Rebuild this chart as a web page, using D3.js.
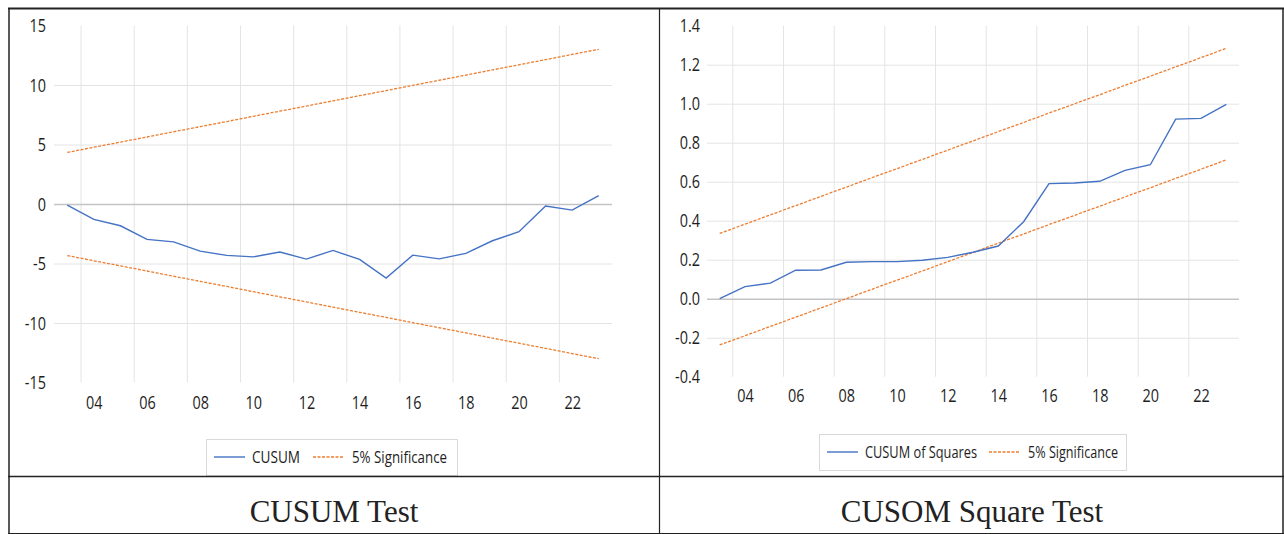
<!DOCTYPE html>
<head>
  <meta charset="utf-8">
  <script src="https://d3js.org/d3.v7.min.js"></script>
  <style>
    body { margin:0; background:#fff; }
    text { font-family: "Open Sans", "Noto Sans", sans-serif; fill:#1e1e1e; }
    .caption { font-family: "Liberation Serif", "Times New Roman", serif; fill:#222; }
  </style>
</head>
<body>
<div id=figure></div>
<script>
// years 2003..2023
var years = d3.range(2003, 2024);
var yearTicks = [2004, 2006, 2008, 2010, 2012, 2014, 2016, 2018, 2020, 2022];
var yearGrid = [2003.5, 2005.5, 2007.5, 2009.5, 2011.5, 2013.5, 2015.5, 2017.5, 2019.5, 2021.5];

// CUSUM test
var cusum = [-0.1, -1.29, -1.83, -2.97, -3.18, -3.96, -4.32, -4.44, -4.04, -4.63, -3.9,
             -4.66, -6.23, -4.3, -4.61, -4.15, -3.09, -2.33, -0.17, -0.51, 0.7];
var cusumUpper = [4.33, 4.77, 5.2, 5.63, 6.07, 6.5, 6.93, 7.37, 7.8, 8.23, 8.67,
                  9.1, 9.53, 9.97, 10.4, 10.83, 11.27, 11.7, 12.13, 12.57, 13.0];
var cusumLower = [-4.33, -4.77, -5.2, -5.63, -6.07, -6.5, -6.93, -7.37, -7.8, -8.23, -8.67,
                  -9.1, -9.53, -9.97, -10.4, -10.83, -11.27, -11.7, -12.13, -12.57, -13.0];
var cusumTicks = [-15, -10, -5, 0, 5, 10, 15];

// CUSUM of squares test
var cusumSq = [0.0, 0.062, 0.08, 0.146, 0.147, 0.187, 0.19, 0.19, 0.197, 0.212, 0.238,
               0.27, 0.395, 0.59, 0.593, 0.602, 0.658, 0.687, 0.921, 0.925, 0.997];
var sqUpper = [0.335, 0.382, 0.43, 0.477, 0.525, 0.572, 0.62, 0.667, 0.714, 0.762, 0.809,
               0.857, 0.904, 0.952, 0.999, 1.046, 1.094, 1.141, 1.189, 1.236, 1.284];
var sqLower = [-0.237, -0.19, -0.142, -0.095, -0.047, 0.0, 0.048, 0.095, 0.142, 0.19, 0.237,
               0.285, 0.332, 0.38, 0.427, 0.474, 0.522, 0.569, 0.617, 0.664, 0.712];
var sqTicks = [-0.4, -0.2, 0.0, 0.2, 0.4, 0.6, 0.8, 1.0, 1.2, 1.4];

var blue = "#4472c4", orange = "#ed7d31";

var svg = d3.select("#figure").append("svg")
  .attr("width", 1284)
  .attr("height", 534);

function drawChart(o) {
  var x = d3.scaleLinear().domain([2002.5, 2023.5]).range([o.left, o.right]);
  var y = d3.scaleLinear().domain(o.domain).range([o.bottom, o.top]);
  var g = svg.append("g");

  // vertical grid
  g.append("g")
    .attr("transform", "translate(0," + o.bottom + ")")
    .call(d3.axisBottom(x).tickValues(yearGrid).tickSize(-(o.bottom - o.top)).tickFormat(""))
    .call(function(a) {
      a.select(".domain").remove();
      a.selectAll("line").attr("stroke", "#e4e4e4").attr("stroke-width", 1);
    });

  // horizontal grid
  var inner = o.ticks.filter(function(d) { return d > o.domain[0] && d < o.domain[1]; });
  g.append("g")
    .attr("transform", "translate(" + o.left + ",0)")
    .call(d3.axisLeft(y).tickValues(inner).tickSize(-(o.right - o.left)).tickFormat(""))
    .call(function(a) {
      a.select(".domain").remove();
      a.selectAll("line")
        .attr("stroke", function(d) { return d === 0 ? "#c4c4c4" : "#e4e4e4"; })
        .attr("stroke-width", function(d) { return d === 0 ? 1.6 : 1; });
    });

  // y labels
  g.append("g")
    .attr("transform", "translate(" + o.labelRight + ",0)")
    .call(d3.axisLeft(y).tickValues(o.ticks).tickSize(0).tickPadding(0).tickFormat(o.fmt))
    .call(function(a) {
      a.select(".domain").remove();
      a.selectAll("text").style("font-size", "19px").attr("fill", "#1e1e1e")
        .attr("transform", "scale(0.76,1)");
    });

  // x labels
  g.append("g")
    .attr("transform", "translate(0," + o.xLabelY + ")")
    .call(d3.axisBottom(x).tickValues(yearTicks).tickSize(0).tickPadding(0)
      .tickFormat(function(d) { return String(d).slice(2); }))
    .call(function(a) {
      a.select(".domain").remove();
      a.selectAll("text").style("font-size", "19px").attr("fill", "#1e1e1e").attr("dy", "0.35em")
        .attr("transform", "scale(0.76,1)");
    });

  var line = d3.line()
    .x(function(d, i) { return x(years[i]); })
    .y(function(d) { return y(d); });

  [o.upper, o.lower].forEach(function(s) {
    g.append("path")
      .datum(s)
      .attr("d", line)
      .attr("fill", "none")
      .attr("stroke", orange)
      .attr("stroke-width", 1.3)
      .attr("stroke-dasharray", "3,1.5");
  });

  g.append("path")
    .datum(o.series)
    .attr("d", line)
    .attr("fill", "none")
    .attr("stroke", blue)
    .attr("stroke-width", 1.4);

  // legend
  var lg = svg.append("g").attr("transform", "translate(" + o.legX + "," + o.legY + ")");
  lg.append("rect")
    .attr("x", 0.5).attr("y", 0.5)
    .attr("width", o.legW).attr("height", 36)
    .attr("fill", "#fff").attr("stroke", "#d9d9d9");
  lg.append("line")
    .attr("x1", 8).attr("x2", 39).attr("y1", 18).attr("y2", 18)
    .attr("stroke", blue).attr("stroke-width", 1.4);
  lg.append("text")
    .attr("x", 46).attr("y", 18).attr("dy", "0.35em")
    .style("font-size", "16.5px")
    .attr("textLength", o.nameW).attr("lengthAdjust", "spacingAndGlyphs")
    .text(o.name);
  lg.append("line")
    .attr("x1", o.legDash).attr("x2", o.legDash + 31).attr("y1", 18).attr("y2", 18)
    .attr("stroke", orange).attr("stroke-width", 1.3).attr("stroke-dasharray", "3,1.5");
  lg.append("text")
    .attr("x", o.legDash + 39).attr("y", 18).attr("dy", "0.35em")
    .style("font-size", "16.5px")
    .attr("textLength", o.sigW).attr("lengthAdjust", "spacingAndGlyphs")
    .text("5% Significance");
}

drawChart({
  left: 54, right: 612, top: 25.5, bottom: 382.5,
  domain: [-15, 15], ticks: cusumTicks,
  fmt: function(d) { return String(d); },
  labelRight: 46, xLabelY: 402,
  series: cusum, upper: cusumUpper, lower: cusumLower,
  legX: 206, legY: 439, legW: 251, legDash: 107, name: "CUSUM",
  nameW: 48, sigW: 95
});

drawChart({
  left: 707, right: 1239, top: 25.7, bottom: 376.7,
  domain: [-0.4, 1.4], ticks: sqTicks,
  fmt: function(d) { return d.toFixed(1); },
  labelRight: 700, xLabelY: 395,
  series: cusumSq, upper: sqUpper, lower: sqLower,
  legX: 819, legY: 434, legW: 307, legDash: 170, name: "CUSUM of Squares",
  nameW: 112, sigW: 90
});

// table frame
var frame = svg.append("g").attr("stroke", "#222").attr("fill", "none");
frame.append("line").attr("x1", 8).attr("x2", 1284).attr("y1", 8.5).attr("y2", 8.5).attr("stroke-width", 2);
frame.append("line").attr("x1", 9).attr("x2", 9).attr("y1", 8).attr("y2", 534).attr("stroke-width", 1.5);
frame.append("line").attr("x1", 659.5).attr("x2", 659.5).attr("y1", 8).attr("y2", 534).attr("stroke-width", 1.2);
frame.append("line").attr("x1", 1283).attr("x2", 1283).attr("y1", 8).attr("y2", 534).attr("stroke-width", 1.5);
frame.append("line").attr("x1", 8).attr("x2", 1284).attr("y1", 476.5).attr("y2", 476.5).attr("stroke-width", 1.5);
frame.append("line").attr("x1", 8).attr("x2", 1284).attr("y1", 533.5).attr("y2", 533.5).attr("stroke-width", 1.2);

svg.append("text").attr("class", "caption")
  .attr("x", 334).attr("y", 522).attr("text-anchor", "middle")
  .style("font-size", "31px")
  .text("CUSUM Test");
svg.append("text").attr("class", "caption")
  .attr("x", 972).attr("y", 522).attr("text-anchor", "middle")
  .style("font-size", "31px")
  .text("CUSOM Square Test");
</script>
</body>
